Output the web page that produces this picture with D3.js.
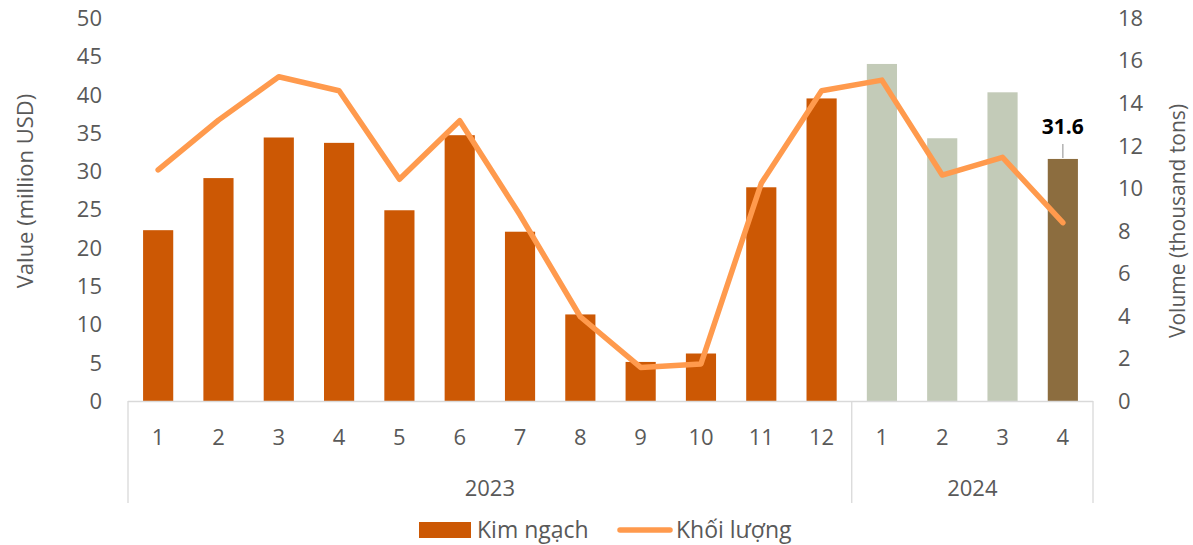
<!DOCTYPE html>
<html><head><meta charset="utf-8">
<script src="https://cdn.jsdelivr.net/npm/d3@7"></script>
<style>body{margin:0;background:#fff}svg{display:block}text{font-family:"Open Sans",sans-serif}</style>
</head><body><svg id="c" width="1193" height="545"></svg>
<script>
const months = ["1","2","3","4","5","6","7","8","9","10","11","12","1","2","3","4"];
const years = ["2023","2023","2023","2023","2023","2023","2023","2023","2023","2023","2023","2023","2024","2024","2024","2024"];
const valueKimNgach = [22.3,29.1,34.4,33.7,24.9,34.7,22.1,11.3,5.1,6.2,27.9,39.5,44.0,34.3,40.3,31.6];
const volumeKhoiLuong = [10.86,13.2,15.24,14.58,10.42,13.17,8.74,3.96,1.58,1.74,10.23,14.58,15.08,10.62,11.45,8.38];
const leftTicks = [0,5,10,15,20,25,30,35,40,45,50];
const rightTicks = [0,2,4,6,8,10,12,14,16,18];
const yearGroups = ["2023","2024"];

const svg = d3.select("#c");
const L = 128, R = 1093, T = 18, B = 401;
const idx = d3.range(months.length);
const x = d3.scaleBand().domain(idx).range([L, R]).paddingInner(0.5).paddingOuter(0.25);
const yL = d3.scaleLinear().domain([0,50]).range([B,T]);
const yR = d3.scaleLinear().domain([0,18]).range([B,T]);
const textCol = "#595959", axisCol = "#D9D9D9";
const barColor = i => years[i]==="2023" ? "#CC5804" : (i===months.length-1 ? "#8C6D3F" : "#C3CBB8");
const FS = 22;

// bars
svg.append("g").selectAll("rect").data(idx).join("rect")
  .attr("x", i => x(i)).attr("width", x.bandwidth())
  .attr("y", i => yL(valueKimNgach[i])).attr("height", i => B - yL(valueKimNgach[i]))
  .attr("fill", barColor);

// axis lines
const step = x.step();
const g = svg.append("g").attr("stroke", axisCol).attr("stroke-width", 1.3);
g.append("line").attr("x1", L).attr("x2", R).attr("y1", B+0.5).attr("y2", B+0.5);
const firstOf2024 = years.indexOf("2024");
const sepX = [L, x(firstOf2024) - (step - x.bandwidth())/2, R];
sepX.forEach(sx => g.append("line").attr("x1", sx).attr("x2", sx).attr("y1", B).attr("y2", 503));

// line
const line = d3.line().x(i => x(i) + x.bandwidth()/2).y(i => yR(volumeKhoiLuong[i]));
svg.append("path").datum(idx).attr("d", line).attr("fill","none")
  .attr("stroke","#FF9A4D").attr("stroke-width",5.5).attr("stroke-linejoin","round").attr("stroke-linecap","round");

// left ticks
svg.append("g").selectAll("text").data(leftTicks).join("text")
  .attr("x", 102).attr("y", d => yL(d)).attr("dy","0.36em").attr("text-anchor","end")
  .attr("fill", textCol).attr("font-size", FS).text(d => d);
// right ticks
svg.append("g").selectAll("text").data(rightTicks).join("text")
  .attr("x", 1118).attr("y", d => yR(d)).attr("dy","0.36em").attr("text-anchor","start")
  .attr("fill", textCol).attr("font-size", FS).text(d => d);

// axis titles
svg.append("text").attr("transform","translate(25,191) rotate(-90)").attr("text-anchor","middle")
  .attr("dy","0.36em").attr("fill",textCol).attr("font-size",22).text("Value (million USD)");
svg.append("text").attr("transform","translate(1177,221) rotate(-90)").attr("text-anchor","middle")
  .attr("dy","0.36em").attr("fill",textCol).attr("font-size",21).text("Volume (thousand tons)");

// category labels
svg.append("g").selectAll("text").data(idx).join("text")
  .attr("x", i => x(i) + x.bandwidth()/2).attr("y", 437).attr("dy","0.36em").attr("text-anchor","middle")
  .attr("fill", textCol).attr("font-size", FS).text(i => months[i]);
// year labels
yearGroups.forEach((yr, k) => {
  svg.append("text").attr("x", (sepX[k]+sepX[k+1])/2).attr("y", 488).attr("dy","0.36em")
    .attr("text-anchor","middle").attr("fill",textCol).attr("font-size",FS).text(yr);
});

// data label for last bar
const li = months.length-1, lx = x(li) + x.bandwidth()/2;
svg.append("line").attr("x1",lx).attr("x2",lx).attr("y1",144).attr("y2",yL(valueKimNgach[li])-1)
  .attr("stroke","#A6A6A6").attr("stroke-width",1.3);
svg.append("text").attr("x",lx).attr("y",126).attr("dy","0.36em").attr("text-anchor","middle")
  .attr("font-weight","bold").attr("font-size",21).attr("fill","#000").text(valueKimNgach[li].toFixed(1));

// legend
const lg = svg.append("g");
lg.append("rect").attr("x",419).attr("y",522).attr("width",52).attr("height",16).attr("fill","#CC5804");
lg.append("text").attr("x",477).attr("y",530).attr("dy","0.36em").attr("fill",textCol).attr("font-size",23).text("Kim ngạch");
lg.append("line").attr("x1",620).attr("x2",670).attr("y1",530).attr("y2",530).attr("stroke","#FF9A4D").attr("stroke-width",5.5).attr("stroke-linecap","round");
lg.append("text").attr("x",676).attr("y",530).attr("dy","0.36em").attr("fill",textCol).attr("font-size",23).text("Khối lượng");
</script></body></html>
